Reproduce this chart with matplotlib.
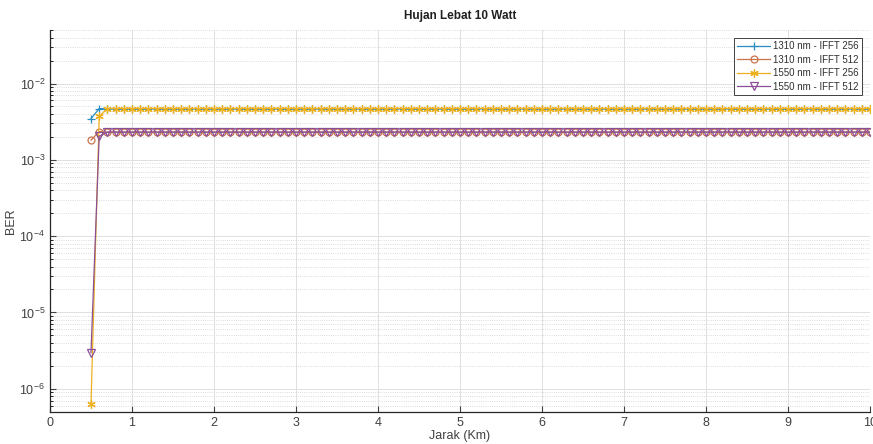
import numpy as np
import matplotlib
matplotlib.use("Agg")
import matplotlib.pyplot as plt
from matplotlib.ticker import LogLocator, NullFormatter

plt.rcParams['font.family'] = ['Liberation Sans', 'DejaVu Sans']
plt.rcParams['mathtext.fontset'] = 'custom'
plt.rcParams['mathtext.rm'] = 'Liberation Sans'

# Data
jarak = np.round(np.arange(0.5, 10.0001, 0.1), 1)
n_rest = len(jarak) - 2
ber_1310_256 = [3.46e-3, 4.7e-3] + [4.69e-3] * n_rest
ber_1310_512 = [1.81e-3, 2.35e-3] + [2.31e-3] * n_rest
ber_1550_256 = [6.3e-7, 3.7e-3] + [4.69e-3] * n_rest
ber_1550_512 = [2.98e-6, 2.03e-3] + [2.31e-3] * n_rest

labels = ["1310 nm - IFFT 256", "1310 nm - IFFT 512",
          "1550 nm - IFFT 256", "1550 nm - IFFT 512"]
colors = ["#2b8cc4", "#c8734a", "#EDB120", "#8a4f97"]
markers = ["+", "o", (6, 2, 0), "v"]
sizes = [6, 5, 6, 5.5]

fig = plt.figure(figsize=(8.73, 4.44), dpi=100)
ax = fig.add_axes([50 / 873, 0.0727, 820 / 873, 0.8593])

series = [ber_1310_256, ber_1310_512, ber_1550_256, ber_1550_512]
for y, lab, c, m, s in zip(series, labels, colors, markers, sizes):
    ax.plot(jarak, y, color=c, marker=m, markersize=s, markerfacecolor='none',
            markeredgecolor=c, linewidth=0.9, markeredgewidth=0.9, label=lab)

ax.set_yscale('log')
ax.set_xlim(0, 10)
ax.set_ylim(5e-7, 5e-2)
ax.set_xticks(range(0, 11))
ax.yaxis.set_major_locator(LogLocator(base=10, numticks=20))
ax.yaxis.set_minor_locator(LogLocator(base=10, subs=np.arange(2, 10), numticks=20))
ax.yaxis.set_minor_formatter(NullFormatter())

ax.grid(True, which='major', color='#e0e0e0', linewidth=0.7, linestyle='-')
ax.grid(True, which='minor', axis='y', color='#d0d0d0', linewidth=0.6, linestyle=':')
ax.set_axisbelow(True)

ax.tick_params(direction='in', labelsize=9, colors='#404040', length=4)
ax.tick_params(which='minor', direction='in', length=2)
for s in ['top', 'right']:
    ax.spines[s].set_visible(False)
for s in ['left', 'bottom']:
    ax.spines[s].set_color('#262626')
    ax.spines[s].set_linewidth(0.9)

ax.set_title("Hujan Lebat 10 Watt", fontsize=8.5, fontweight='bold', pad=8,
             color='#202020')
ax.set_xlabel("Jarak (Km)", fontsize=9, labelpad=1, color='#404040')
ax.set_ylabel("BER", fontsize=9, labelpad=2, color='#404040')

leg = ax.legend(loc='upper right', fontsize=7, frameon=True, fancybox=False,
                edgecolor='#404040', framealpha=1, borderpad=0.35,
                labelspacing=0.35, handlelength=3.4, handletextpad=0.3,
                borderaxespad=0.8)
leg.get_frame().set_linewidth(0.7)
for t in leg.get_texts():
    t.set_color('#303030')

fig.savefig("out.png", dpi=100)
